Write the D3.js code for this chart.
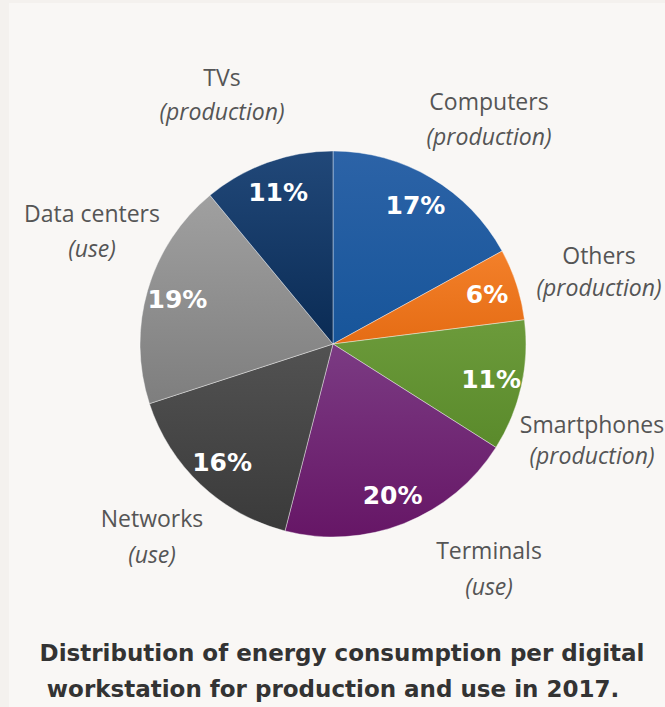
<!DOCTYPE html>
<html>
<head>
<meta charset="utf-8">
<script src="https://cdn.jsdelivr.net/npm/d3@7"></script>
<style>
  html, body { margin: 0; padding: 0; background: #f4f1ee; }
  svg { display: block; }
</style>
</head>
<body>
<svg id="chart" width="665" height="707"></svg>
<script>
// Energy consumption per digital workstation, 2017 (share in %)
const categories = ["Computers", "Others", "Smartphones", "Terminals", "Networks", "Data centers", "TVs"];
const kinds      = ["production", "production", "production", "use", "use", "use", "production"];
const shares     = [17, 6, 11, 20, 16, 19, 11];

// Slice colours: lighter top tone, darker bottom tone
const topColors    = ["#2c63a7", "#f3802a", "#6c9b3b", "#7b3b83", "#525252", "#a0a0a0", "#214879"];
const bottomColors = ["#17559a", "#e56c14", "#5a8a2b", "#661666", "#3a3a3a", "#7e7e7e", "#0a2b54"];

const svg = d3.select("#chart");
const W = 665, H = 707;
const cx = 333, cy = 344, R = 193;

// Panel background
svg.append("rect").attr("x", 9).attr("y", 3).attr("width", W - 9).attr("height", H - 3)
  .attr("fill", "#f9f7f5");

const data = categories.map((c, i) => ({ name: c, kind: kinds[i], value: shares[i], i }));

const pie = d3.pie().value(d => d.value).sort(null);
const arcs = pie(data);
const arc = d3.arc().innerRadius(0).outerRadius(R);
const labelArc = d3.arc().innerRadius(162).outerRadius(162);

const defs = svg.append("defs");
data.forEach((d, i) => {
  const g = defs.append("linearGradient").attr("id", "grad" + i)
    .attr("x1", 0).attr("y1", 0).attr("x2", 0).attr("y2", 1);
  g.append("stop").attr("offset", "0%").attr("stop-color", topColors[i]);
  g.append("stop").attr("offset", "100%").attr("stop-color", bottomColors[i]);
});

const g = svg.append("g").attr("transform", `translate(${cx},${cy})`);

g.selectAll("path.slice").data(arcs).join("path")
  .attr("class", "slice")
  .attr("d", arc)
  .attr("fill", d => `url(#grad${d.data.i})`)
  .attr("stroke", "rgba(255,255,255,0.4)")
  .attr("stroke-width", 1);

// Percentage labels inside the slices
g.selectAll("text.pct").data(arcs).join("text")
  .attr("class", "pct")
  .attr("transform", d => `translate(${labelArc.centroid(d)})`)
  .attr("text-anchor", "middle")
  .attr("dy", "0.36em")
  .attr("font-family", "DejaVu Sans, Verdana, sans-serif")
  .attr("font-weight", "bold")
  .attr("font-size", 25)
  .attr("fill", "#ffffff")
  .text(d => d.data.value + "%");

// Category labels placed around the pie
const labelAnchors = {
  "Computers":    [489, 110, 35],
  "Others":       [599, 264, 32],
  "Smartphones":  [592, 433, 31],
  "Terminals":    [489, 559, 36],
  "Networks":     [152, 527, 36],
  "Data centers": [92, 222, 35],
  "TVs":          [222, 86, 34]
};
const nameLayer = svg.append("g");
data.forEach(d => {
  const [x, y, gap] = labelAnchors[d.name];
  const t = nameLayer.append("text")
    .attr("x", x).attr("y", y)
    .attr("text-anchor", "middle")
    .attr("font-family", "Open Sans, sans-serif")
    .attr("font-size", 23)
    .attr("fill", "#555555");
  t.append("tspan").attr("x", x).text(d.name);
  t.append("tspan").attr("x", x).attr("dy", gap)
    .attr("font-style", "italic").text("(" + d.kind + ")");
});

// Caption
const caption = svg.append("text")
  .attr("text-anchor", "middle")
  .attr("font-family", "DejaVu Sans, Verdana, sans-serif")
  .attr("font-weight", "bold")
  .attr("font-size", 23)
  .attr("fill", "#333333");
caption.append("tspan").attr("x", 342).attr("y", 661)
  .text("Distribution of energy consumption per digital");
caption.append("tspan").attr("x", 333).attr("y", 697)
  .text("workstation for production and use in 2017.");
</script>
</body>
</html>
